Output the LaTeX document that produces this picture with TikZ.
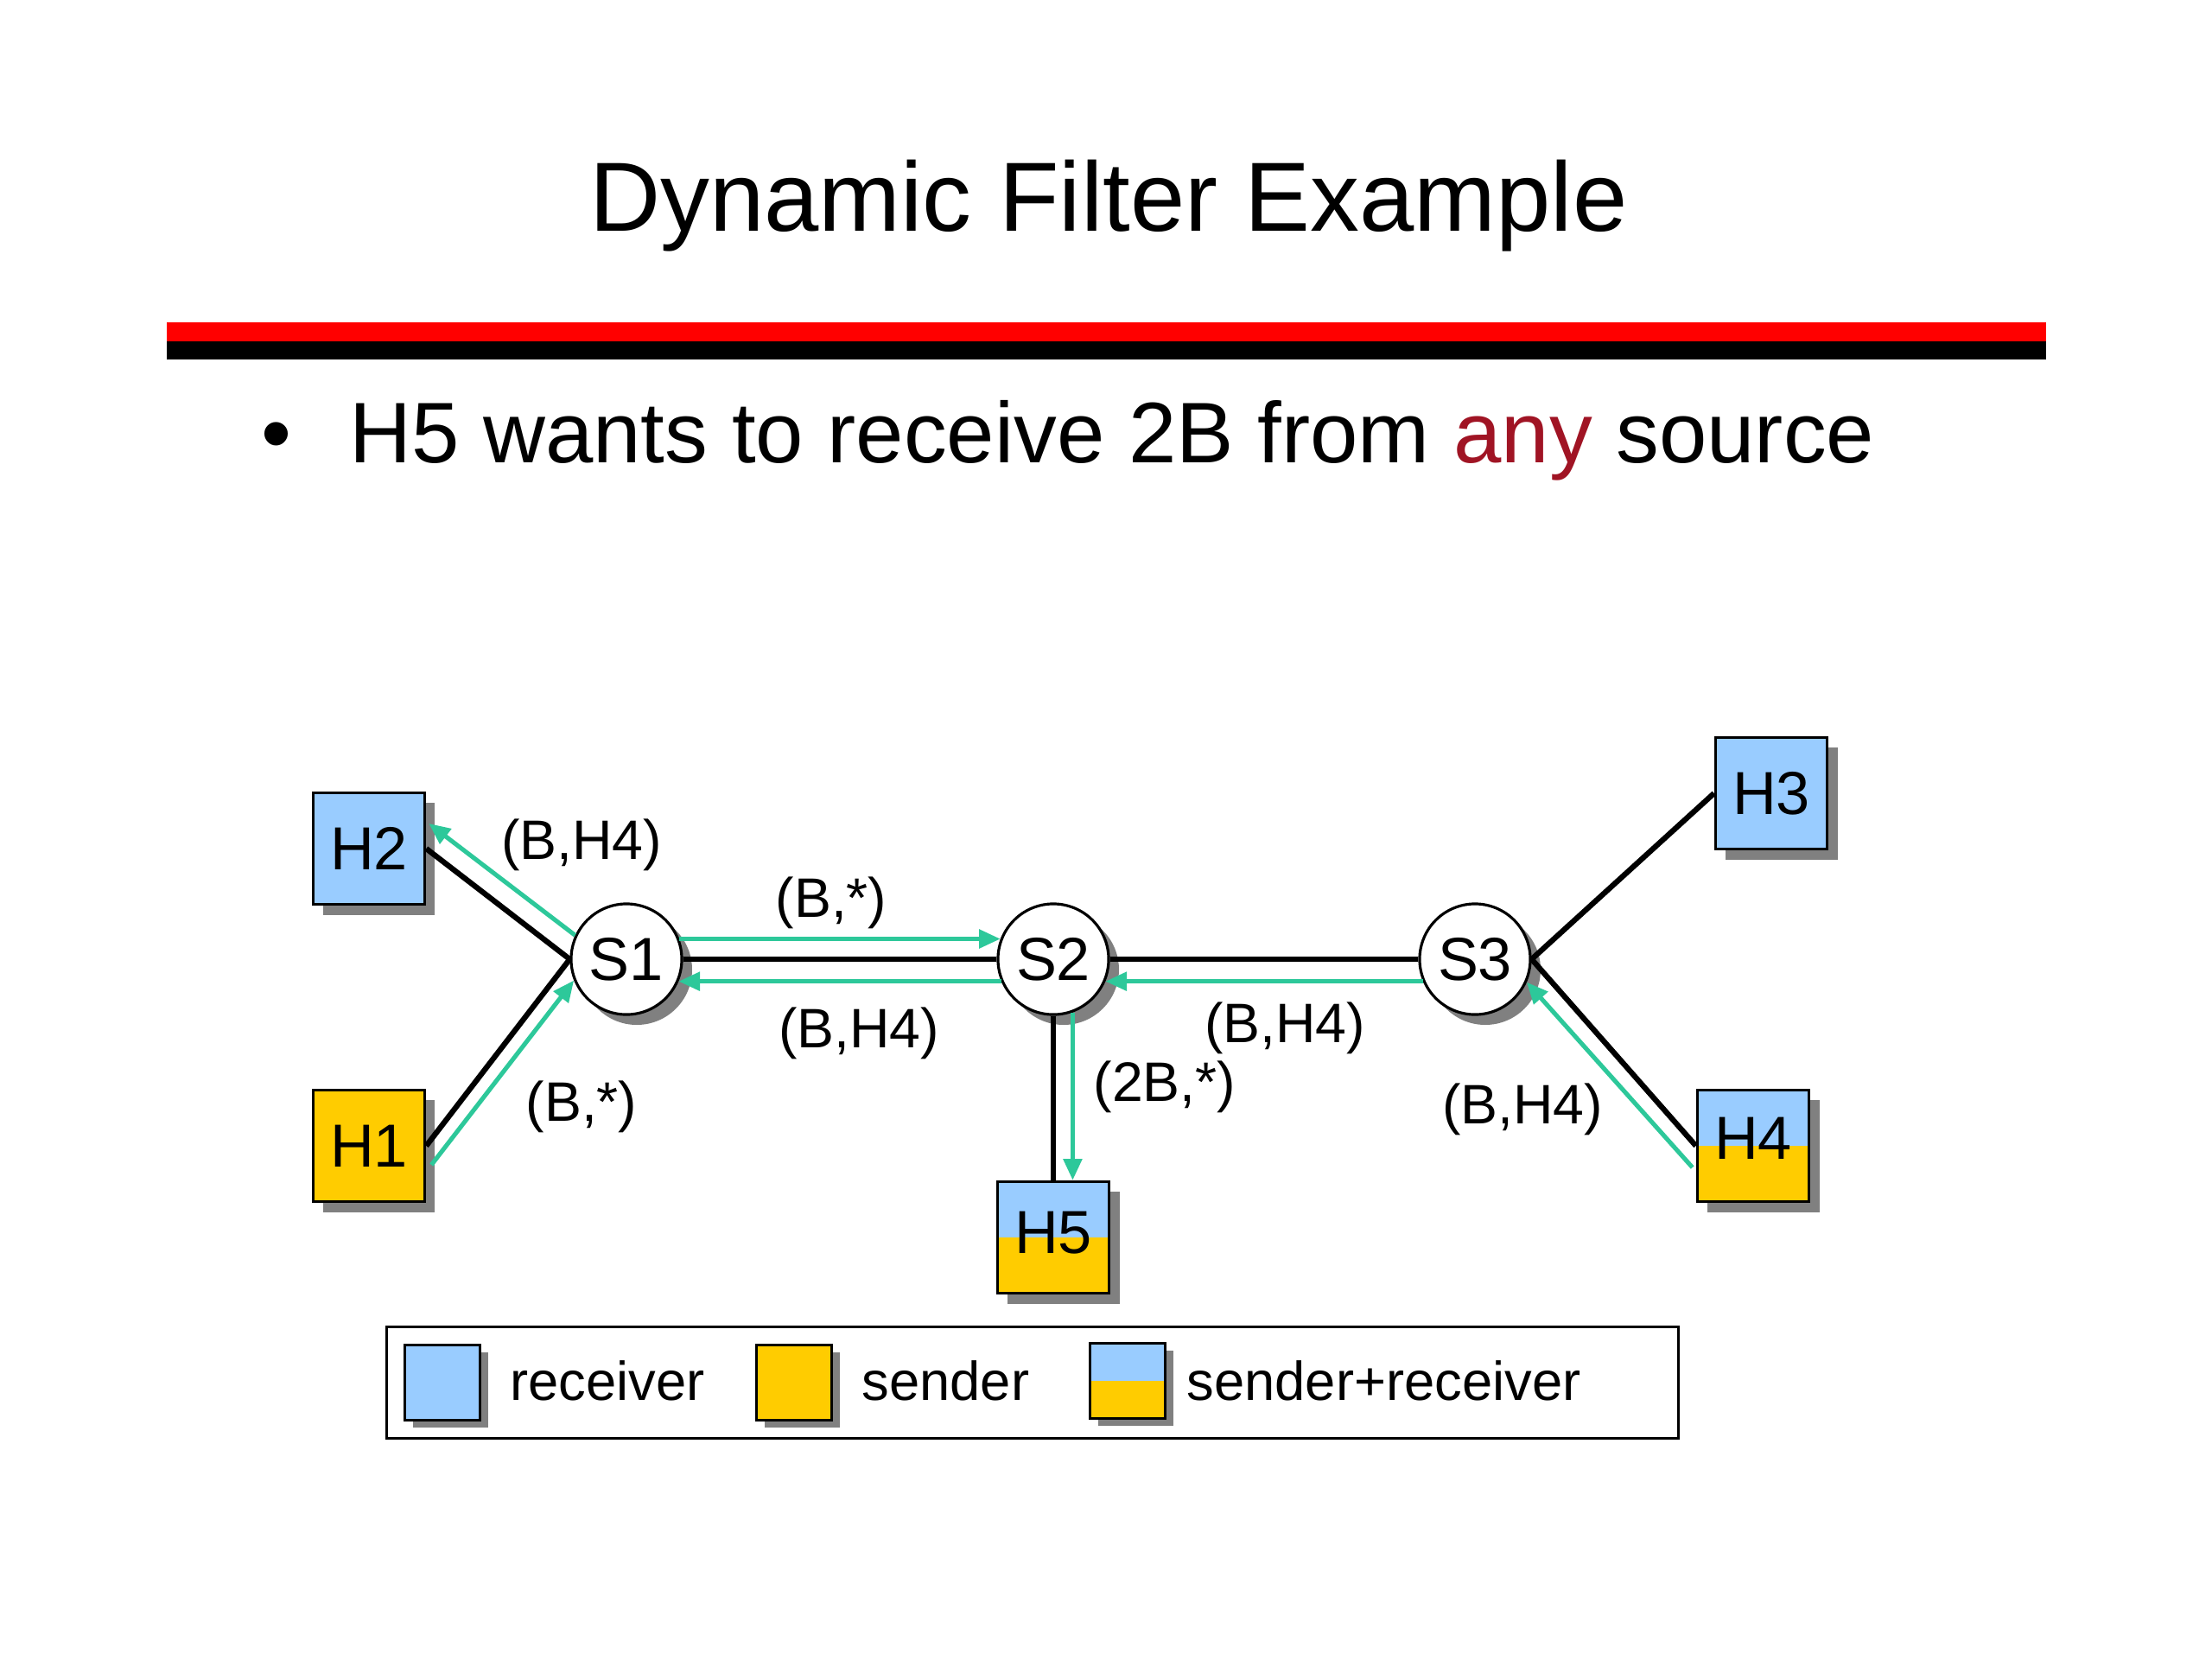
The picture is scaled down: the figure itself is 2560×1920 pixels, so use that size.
\documentclass[tikz,border=0pt]{standalone}
\usepackage{fontspec}
\setmainfont{Liberation Sans}
\usetikzlibrary{shadows,arrows.meta,calc}
\definecolor{rcv}{HTML}{99CCFF}
\definecolor{snd}{HTML}{FFCC00}
\definecolor{flow}{HTML}{2DC89A}
\definecolor{anyred}{HTML}{A01424}
\definecolor{shadowgray}{HTML}{808080}
\begin{document}
\begin{tikzpicture}[x=0.01cm,y=-0.01cm,
  shd/.style={drop shadow={shadow xshift=3.4pt,shadow yshift=-3.4pt,fill=shadowgray,opacity=1}},
  smallshd/.style={drop shadow={shadow xshift=2.8pt,shadow yshift=-2.4pt,fill=shadowgray,opacity=1}},
  host/.style={draw=black,line width=1pt,minimum size=1.29cm,inner sep=0pt,shd,font=\fontsize{20}{24}\selectfont},
  rhost/.style={host,fill=rcv},
  shost/.style={host,fill=snd},
  srhost/.style={host,fill=rcv,path picture={\fill[snd] (path picture bounding box.west) rectangle (path picture bounding box.south east);}},
  switch/.style={circle,draw=black,line width=0.9pt,fill=white,minimum size=1.28cm,inner sep=0pt,shd,font=\fontsize{20}{24}\selectfont},
  link/.style={line width=1.8pt,draw=black},
  flowarrow/.style={line width=1.45pt,draw=flow,-{Triangle[length=7pt,width=6pt]}},
  lbl/.style={font=\fontsize{18.3}{22}\selectfont,inner sep=0pt},
  legbox/.style={draw=black,line width=0.9pt,minimum size=0.87cm,inner sep=0pt,smallshd},
  legtext/.style={anchor=base west,inner sep=0pt,font=\fontsize{18}{22}\selectfont},
]
\useasboundingbox (0,0) rectangle (2560,1920);
\fill[white] (0,0) rectangle (2560,1920);

% title and rule
\node[anchor=base,inner sep=0pt,font=\fontsize{32.35}{38}\selectfont] (title) at (1283,267) {Dynamic Filter Example};
\fill[red] (193,373) rectangle (2368,395);
\fill[black] (193,395) rectangle (2368,416);

% bullet
\node[anchor=base,inner sep=0pt,font=\fontsize{28.4}{34}\selectfont] (dot) at (320,535) {\textbullet};
\node[anchor=base west,inner sep=0pt,font=\fontsize{28.3}{34}\selectfont] (bullet) at (404,535) {H5 wants to receive 2B from \textcolor{anyred}{any} source};

% nodes
\node[rhost] (H2) at (427,982) {H2};
\node[shost] (H1) at (427,1326) {H1};
\node[switch] (S1) at (725,1110) {S1};
\node[switch] (S2) at (1219,1110) {S2};
\node[switch] (S3) at (1707,1110) {S3};
\node[rhost] (H3) at (2050,918) {H3};
\node[srhost] (H4) at (2029,1326) {\raisebox{5pt}{H4}};
\node[srhost] (H5) at (1219,1432) {\raisebox{3pt}{H5}};

% black links
\draw[link] (H2.east) -- (S1.west);
\draw[link] (H1.east) -- (S1.west);
\draw[link] (S1.east) -- (S2.west);
\draw[link] (S2.east) -- (S3.west);
\draw[link] (S2.south) -- (H5.north);
\draw[link] (S3.east) -- (H3.west);
\draw[link] (S3.east) -- (H4.west);

% flows
\draw[flowarrow] (S1.155) -- ([shift={(3,-29)}]H2.east);
\draw[flowarrow] ([shift={(6,22)}]H1.east) -- (S1.202);
\draw[flowarrow] (S1.21) -- (S2.159);
\draw[flowarrow] (S2.203) -- (S1.-23);
\draw[flowarrow] (S3.203) -- (S2.-23);
\draw[flowarrow] (S2.-70) -- (S2.-70 |- H5.north);
\draw[flowarrow] ([shift={(-4,25)}]H4.west) -- (S3.-24);

% labels
\node[lbl] (l1) at (673,978) {(B,H4)};
\node[lbl] (l2) at (673,1281) {(B,*)};
\node[lbl] (l3) at (962,1045) {(B,*)};
\node[lbl] (l4) at (994,1196) {(B,H4)};
\node[lbl] (l5) at (1487,1190) {(B,H4)};
\node[lbl] (l6) at (1348,1258) {(2B,*)};
\node[lbl] (l7) at (1762,1284) {(B,H4)};

% legend
\node[draw=black,line width=1pt,minimum width=14.94cm,minimum height=1.29cm,inner sep=0pt] (legend) at (1195,1600) {};
\node[legbox,fill=rcv] (k1) at (512,1600) {};
\node[legtext] (t1) at (590,1620) {receiver};
\node[legbox,fill=snd] (k2) at (919,1600) {};
\node[legtext] (t2) at (997,1620) {sender};
\node[legbox,fill=rcv,path picture={\fill[snd] (path picture bounding box.west) rectangle (path picture bounding box.south east);}] (k3) at (1305,1598) {};
\node[legtext] (t3) at (1373,1620) {sender+receiver};
\end{tikzpicture}
\end{document}
